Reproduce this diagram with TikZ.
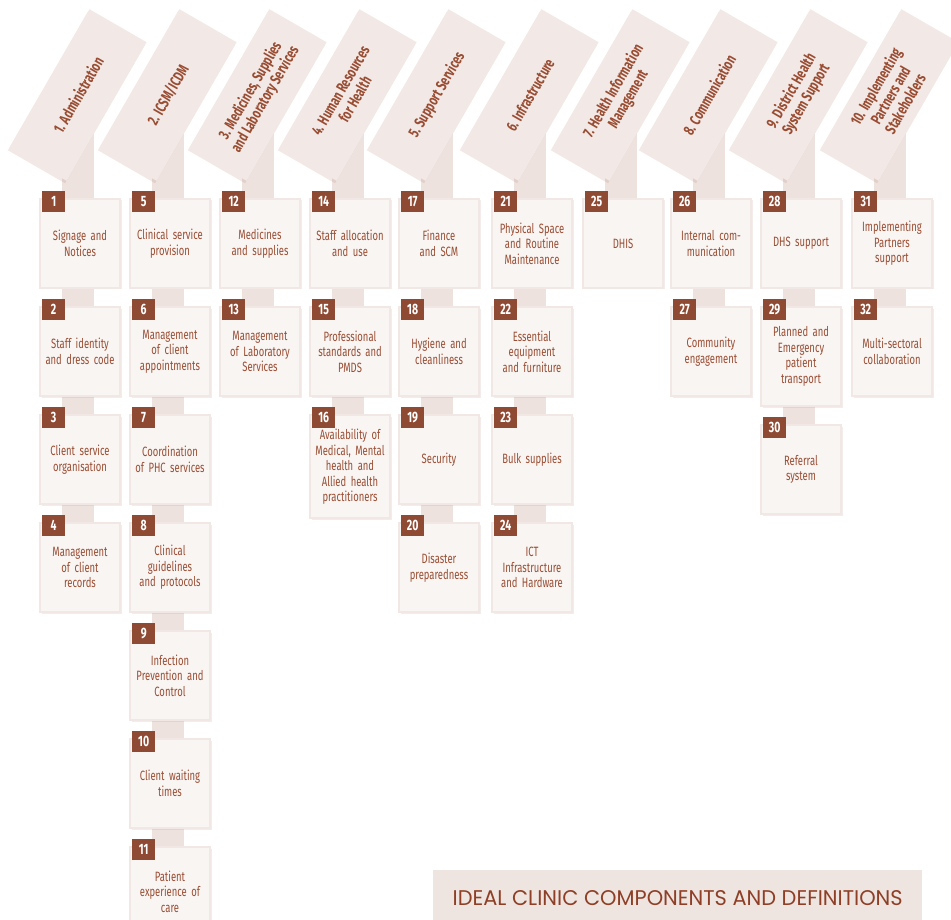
\documentclass[tikz,border=0pt]{standalone}
\usepackage{fontspec}
\usetikzlibrary{shadows}
\newfontfamily\bodyfont[FakeStretch=0.70]{Fira Sans}
\newfontfamily\headfont[FakeStretch=0.70]{Fira Sans}
\newfontfamily\titlefont{Poppins}

\definecolor{cardfill}{HTML}{F2E9E6}
\definecolor{boxfill}{HTML}{F9F5F3}
\definecolor{boxedge}{HTML}{F1E8E5}
\definecolor{stripfill}{HTML}{EDE2DE}
\definecolor{inkbrown}{HTML}{994D33}
\definecolor{badgefill}{HTML}{8F4A33}
\definecolor{titlefill}{HTML}{EEE4E0}
\definecolor{titleink}{HTML}{8E3F26}

\pgfdeclarelayer{background}
\pgfsetlayers{background,main}

% first component of a column: name, column centre x, number, text
\newcommand\firstitem[4]{%
  \node[cbox] (#1) at (#2,198) {#4};
  \node[badge] (#1n) at ([xshift=3pt,yshift=7pt]#1.north west) {#3};
}
% following component: [extra options] name, component above, number, text
\newcommand\nextitem[5][]{%
  \node[cbox,#1] (#2) at ([yshift=-17pt]#3.south) {#5};
  \node[badge] (#2n) at ([xshift=3pt,yshift=7pt]#2.north west) {#4};
}

\begin{document}
\begin{tikzpicture}[x=1pt,y=-1pt,
  card/.style={fill=cardfill, minimum width=160pt, minimum height=66pt,
    rotate=60, align=center, text=inkbrown, inner sep=2pt,
    font=\headfont\bfseries\fontsize{15.5}{17}\selectfont,
    drop shadow={shadow xshift=-1.5pt, shadow yshift=-2.5pt, opacity=0.12, fill=inkbrown}},
  cbox/.style={anchor=north, fill=boxfill, draw=boxedge, line width=2pt,
    text width=74pt, inner xsep=3pt, inner ysep=14pt, minimum height=89pt,
    align=center, text=inkbrown,
    font=\bodyfont\fontsize{13.5}{15.5}\selectfont,
    drop shadow={shadow xshift=1.5pt, shadow yshift=-1.5pt, opacity=0.10, fill=inkbrown}},
  badge/.style={anchor=north west, fill=badgefill, text=white,
    minimum width=23pt, minimum height=21pt, inner sep=2pt,
    font=\bodyfont\bfseries\fontsize{15}{15}\selectfont},
  strip/.style={draw=stripfill, line width=32pt},
  titlebox/.style={fill=titlefill, minimum width=489pt, minimum height=55pt,
    anchor=north west, inner sep=0pt}
]
\useasboundingbox (0,0) rectangle (951,920);

% ---- category cards ----
\node[card] (c1)  at (78,95)  {1. Administration};
\node[card] (c2)  at (168,95) {2. ICSM/ICDM};
\node[card] (c3)  at (258,95) {3. Medicines, Supplies\\and Laboratory Services};
\node[card] (c4)  at (348,95) {4. Human Resources\\for Health};
\node[card] (c5)  at (437,95) {5. Support Services};
\node[card] (c6)  at (530,95) {6. Infrastructure};
\node[card] (c7)  at (621,95) {7. Health Information\\Management};
\node[card] (c8)  at (709,95) {8. Communication};
\node[card] (c9)  at (799,95) {9. District Health\\System Support};
\node[card] (c10) at (890,95) {10. Implementing\\Partners and\\Stakeholders};

% ---- column 1 ----
\firstitem{b1}{80}{1}{Signage and\\Notices}
\nextitem{b2}{b1}{2}{Staff identity\\and dress code}
\nextitem{b3}{b2}{3}{Client service\\organisation}
\nextitem{b4}{b3}{4}{Management\\of client\\records}
% ---- column 2 ----
\firstitem{b5}{170}{5}{Clinical service\\provision}
\nextitem{b6}{b5}{6}{Management\\of client\\appointments}
\nextitem{b7}{b6}{7}{Coordination\\of PHC services}
\nextitem{b8}{b7}{8}{Clinical\\guidelines\\and protocols}
\nextitem{b9}{b8}{9}{Infection\\Prevention and\\Control}
\nextitem{b10}{b9}{10}{Client waiting\\times}
\nextitem{b11}{b10}{11}{Patient\\experience of\\care}
% ---- column 3 ----
\firstitem{b12}{260}{12}{Medicines\\and supplies}
\nextitem{b13}{b12}{13}{Management\\of Laboratory\\Services}
% ---- column 4 ----
\firstitem{b14}{350}{14}{Staff allocation\\and use}
\nextitem{b15}{b14}{15}{Professional\\standards and\\PMDS}
\nextitem{b16}{b15}{16}{Availability of\\Medical, Mental\\health and\\Allied health\\practitioners}
% ---- column 5 ----
\firstitem{b17}{439}{17}{Finance\\and SCM}
\nextitem{b18}{b17}{18}{Hygiene and\\cleanliness}
\nextitem{b19}{b18}{19}{Security}
\nextitem{b20}{b19}{20}{Disaster\\preparedness}
% ---- column 6 ----
\firstitem{b21}{532}{21}{Physical Space\\and Routine\\Maintenance}
\nextitem{b22}{b21}{22}{Essential\\equipment\\and furniture}
\nextitem{b23}{b22}{23}{Bulk supplies}
\nextitem{b24}{b23}{24}{ICT\\Infrastructure\\and Hardware}
% ---- column 7 ----
\firstitem{b25}{623}{25}{DHIS}
% ---- column 8 ----
\firstitem{b26}{711}{26}{Internal com-\\munication}
\nextitem{b27}{b26}{27}{Community\\engagement}
% ---- column 9 ----
\firstitem{b28}{801}{28}{DHS support}
\nextitem[minimum height=99pt]{b29}{b28}{29}{Planned and\\Emergency\\patient\\transport}
\nextitem{b30}{b29}{30}{Referral\\system}
% ---- column 10 ----
\firstitem{b31}{892}{31}{Implementing\\Partners\\support}
\nextitem{b32}{b31}{32}{Multi-sectoral\\collaboration}

% ---- title ----
\node[titlebox] (title) at (433,870) {};
\node[text=titleink] (titletext) at (title.center)
  {\resizebox{450pt}{15pt}{\titlefont IDEAL CLINIC COMPONENTS AND DEFINITIONS}};

% ---- connecting strips behind cards and boxes ----
\begin{pgfonlayer}{background}
  \fill[white] (0,0) rectangle (951,920);
  \foreach \c/\b in {c1/b1, c2/b5, c3/b12, c4/b14, c5/b17, c6/b21, c7/b25, c8/b26, c9/b28, c10/b31}
    \draw[strip] ([xshift=-2pt]\b.north |- \c.center) -- ([xshift=-2pt]\b.north);
  \foreach \a/\b in {b1/b2, b2/b3, b3/b4,
                     b5/b6, b6/b7, b7/b8, b8/b9, b9/b10, b10/b11,
                     b12/b13, b14/b15, b15/b16,
                     b17/b18, b18/b19, b19/b20,
                     b21/b22, b22/b23, b23/b24,
                     b26/b27, b28/b29, b29/b30, b31/b32}
    \draw[strip] ([xshift=-2pt]\a.south) -- ([xshift=-2pt]\b.north);
\end{pgfonlayer}
\end{tikzpicture}
\end{document}
